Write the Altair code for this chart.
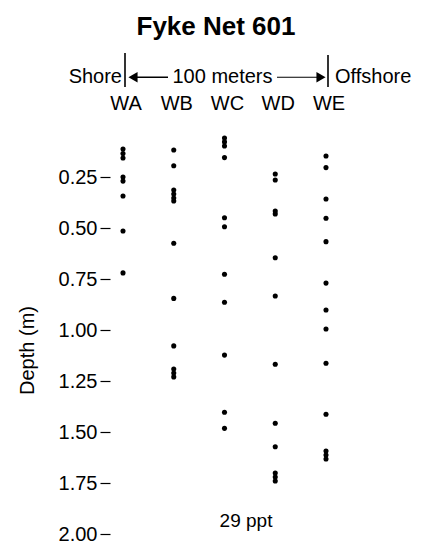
import altair as alt
import pandas as pd

# ---- data ----
columns = ["WA", "WB", "WC", "WD", "WE"]
WA = [0.113, 0.135, 0.157, 0.25, 0.27, 0.343, 0.515, 0.72]
WB = [0.118, 0.195, 0.314, 0.333, 0.353, 0.368, 0.575, 0.845, 1.078, 1.191, 1.211, 1.23]
WC = [0.059, 0.078, 0.098, 0.155, 0.45, 0.494, 0.727, 0.864, 1.123, 1.403, 1.482]
WD = [0.235, 0.265, 0.417, 0.431, 0.646, 0.833, 1.168, 1.457, 1.572, 1.701, 1.721, 1.74]
WE = [0.147, 0.204, 0.358, 0.452, 0.567, 0.77, 0.902, 0.995, 1.163, 1.413, 1.593, 1.613, 1.632]
depth_ticks = [0.25, 0.50, 0.75, 1.00, 1.25, 1.50, 1.75, 2.00]

series = [WA, WB, WC, WD, WE]
rows = []
for i, (name, vals) in enumerate(zip(columns, series)):
    for v in vals:
        rows.append({"station": name, "idx": i, "depth": v})
dots = pd.DataFrame(rows)
col_df = pd.DataFrame({"station": columns, "idx": list(range(len(columns)))})

FONT = "Liberation Sans"
xscale = alt.Scale(domain=[-0.256, 4.867])
yscale = alt.Scale(domain=[0, 2], reverse=True, nice=False, zero=False)

points = alt.Chart(dots).mark_circle(size=26, color="black", opacity=1).encode(
    x=alt.X("idx:Q", scale=xscale, axis=None),
    y=alt.Y("depth:Q", scale=yscale,
            axis=alt.Axis(values=depth_ticks, format=".2f", domain=False, grid=False,
                          ticks=True, tickSize=10, tickColor="black", tickWidth=1.2,
                          labelPadding=3, labelFont=FONT, labelFontSize=20,
                          labelColor="black", title="Depth (m)", titleFont=FONT,
                          titleFontSize=20, titleFontWeight="normal", titleColor="black",
                          titleX=-77, titleY=224, titleBaseline="alphabetic",
                          titleAngle=270)),
)

col_labels = alt.Chart(col_df).mark_text(font=FONT, fontSize=20, color="black",
                                         baseline="alphabetic", dx=3).encode(
    x=alt.X("idx:Q", scale=xscale, axis=None),
    y=alt.value(-16),
    text="station:N",
)

one = alt.Data(values=[{"a": 1}])


def txt(s, x, y, size=20, align="center", weight="normal"):
    return alt.Chart(one).mark_text(text=s, font=FONT, fontSize=size, fontWeight=weight,
                                    color="black", align=align, baseline="alphabetic").encode(
        x=alt.value(x), y=alt.value(y))


def rule(x, x2, y, y2, w=1.3):
    return alt.Chart(one).mark_rule(color="black", strokeWidth=w).encode(
        x=alt.value(x), x2=alt.value(x2), y=alt.value(y), y2=alt.value(y2))


def tri(shape, x, y):
    return alt.Chart(one).mark_point(shape=shape, filled=True, color="black", opacity=1,
                                     size=110).encode(x=alt.value(x), y=alt.value(y))


title = txt("Fyke Net 601", 106, -91, size=26, weight="bold")
shore = txt("Shore", 12, -43, align="right")
offshore = txt("Offshore", 225, -43, align="left")
meters = txt("100 meters", 112.5, -43)
ppt = txt("29 ppt", 136, 401, size=19)

lines = [
    rule(15, 15, -73, -39, 1.6),
    rule(218, 218, -71, -39, 1.6),
    rule(22, 58, -48.7, -48.7, 1.4),
    rule(167, 212, -48.7, -48.7, 1.1),
]
heads = [tri("triangle-left", 23, -48.7), tri("triangle-right", 211, -48.7)]

chart = alt.layer(points, col_labels, title, shore, offshore, meters, ppt, *lines, *heads).properties(
    width=260, height=408,
    autosize=alt.AutoSizeParams(type="none"),
    padding={"left": 102, "top": 118, "right": 45, "bottom": 15},
).configure_view(stroke=None)

chart.save("out.html", embed_options={"renderer": "svg", "actions": False})
